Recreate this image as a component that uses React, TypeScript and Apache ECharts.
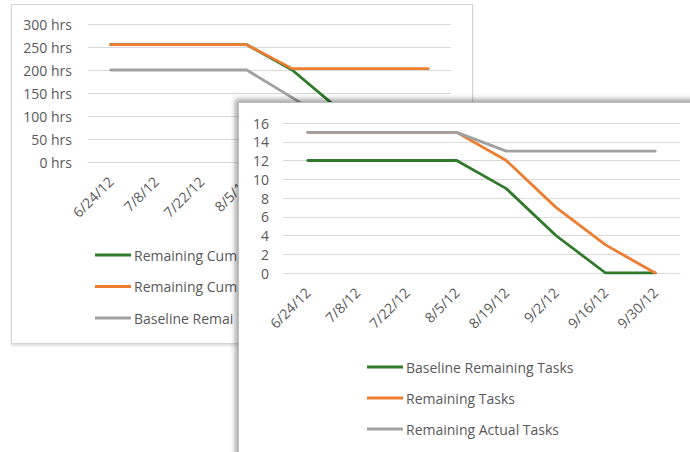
import React, { useEffect, useRef } from "react";
import * as echarts from "echarts";

const dates = ["6/24/12", "7/8/12", "7/22/12", "8/5/12", "8/19/12", "9/2/12", "9/16/12", "9/30/12"];

// back chart (hours)
const backNames = ["Remaining Cumulative Work", "Remaining Cumulative Actual Work", "Baseline Remaining Cumulative Work"];
const backGreen = [255, 255, 255, 255, 200, 117, 40, 0];
const backOrange = [255, 255, 255, 255, 203, 203, 203, 203];
const backGray = [200, 200, 200, 200, 140, 80, 30, 0];
const backTicks = [0, 50, 100, 150, 200, 250, 300];

// front chart (tasks)
const frontNames = ["Baseline Remaining Tasks", "Remaining Tasks", "Remaining Actual Tasks"];
const frontGreen = [12, 12, 12, 12, 9, 4, 0, 0];
const frontOrange = [15, 15, 15, 15, 12, 7, 3, 0];
const frontGray = [15, 15, 15, 15, 13, 13, 13, 13];
const frontTicks = [0, 2, 4, 6, 8, 10, 12, 14, 16];

const GREEN = "#2e7a2a";
const ORANGE = "#ed7d31";
const GRAY = "#a0a0a0";
const TXT = "#595959";
const GRID = "#d9d9d9";
const FONT = "'Open Sans', 'Noto Sans', sans-serif";

function lineSeries(name: string, data: number[], color: string) {
  return {
    name,
    type: "line",
    data,
    symbol: "none",
    showSymbol: false,
    lineStyle: { color, width: 2.8, cap: "round", join: "round" },
    itemStyle: { color },
  };
}

function makeOption(opts: {
  gridLeft: number;
  gridTop: number;
  gridW: number;
  gridH: number;
  ticks: number[];
  yFmt: string;
  yMargin: number;
  series: any[];
  legendLeft: number;
  legendTop: number;
  legendGap: number;
  legendTextWidth?: number;
  names: string[];
}) {
  const legendText: any = { color: TXT, fontSize: 14, fontFamily: FONT, lineHeight: 16, padding: [0, 0, 0, -2] };
  if (opts.legendTextWidth) {
    legendText.width = opts.legendTextWidth;
    legendText.overflow = "truncate";
    legendText.ellipsis = "";
  }
  return {
    animation: false,
    textStyle: { fontFamily: FONT },
    grid: { left: opts.gridLeft, top: opts.gridTop, width: opts.gridW, height: opts.gridH, containLabel: false },
    xAxis: {
      type: "category",
      data: dates,
      boundaryGap: true,
      axisLine: { show: true, lineStyle: { color: GRID, width: 1 } },
      axisTick: { show: false },
      axisLabel: { rotate: 45, color: TXT, fontSize: 14, fontFamily: FONT, margin: 17, interval: 0 },
      splitLine: { show: false },
    },
    yAxis: {
      type: "value",
      min: opts.ticks[0],
      max: opts.ticks[opts.ticks.length - 1],
      interval: opts.ticks[1] - opts.ticks[0],
      axisLine: { show: false },
      axisTick: { show: false },
      axisLabel: { color: TXT, fontSize: 14, fontFamily: FONT, formatter: opts.yFmt, margin: opts.yMargin },
      splitLine: { show: true, lineStyle: { color: GRID, width: 1 } },
    },
    legend: {
      orient: "vertical",
      left: opts.legendLeft,
      top: opts.legendTop,
      padding: 0,
      itemGap: opts.legendGap,
      itemWidth: 36,
      itemHeight: 3,
      icon: "rect",
      data: opts.names,
      textStyle: legendText,
    },
    series: opts.series,
  };
}

export default function App() {
  const backRef = useRef<HTMLDivElement>(null);
  const frontRef = useRef<HTMLDivElement>(null);

  useEffect(() => {
    const back = echarts.init(backRef.current!, undefined, { renderer: "svg" });
    back.setOption(
      makeOption({
        gridLeft: 76,
        gridTop: 19,
        gridW: 363,
        gridH: 138,
        ticks: backTicks,
        yFmt: "{value} hrs",
        yMargin: 16,
        names: backNames,
        series: [
          lineSeries(backNames[0], backGreen, GREEN),
          lineSeries(backNames[1], backOrange, ORANGE),
          lineSeries(backNames[2], backGray, GRAY),
        ],
        legendLeft: 83,
        legendTop: 242,
        legendGap: 15.5,
        legendTextWidth: 106,
      }) as any
    );

    const front = echarts.init(frontRef.current!, undefined, { renderer: "svg" });
    front.setOption(
      makeOption({
        gridLeft: 44,
        gridTop: 20,
        gridW: 397,
        gridH: 150,
        ticks: frontTicks,
        yFmt: "{value}",
        yMargin: 14,
        names: frontNames,
        series: [
          lineSeries(frontNames[0], frontGreen, GREEN),
          lineSeries(frontNames[1], frontOrange, ORANGE),
          lineSeries(frontNames[2], frontGray, GRAY),
        ],
        legendLeft: 128,
        legendTop: 256,
        legendGap: 15,
      }) as any
    );

    return () => {
      back.dispose();
      front.dispose();
    };
  }, []);

  return (
    <div style={{ position: "absolute", left: 0, top: 0, width: 690, height: 452, overflow: "hidden", background: "#fff" }}>
      <div
        style={{
          position: "absolute",
          left: 11,
          top: 4,
          width: 460,
          height: 338,
          border: "1px solid #d4d4d4",
          boxShadow: "0 2px 2px rgba(0,0,0,0.12)",
          background: "#fff",
        }}
      >
        <div ref={backRef} style={{ width: 460, height: 338 }} />
      </div>
      <div
        style={{
          position: "absolute",
          left: 238,
          top: 102,
          width: 460,
          height: 360,
          borderLeft: "1px solid #bdbdbd",
          borderTop: "1px solid #bdbdbd",
          boxShadow: "-3px -3px 5px rgba(0,0,0,0.35)",
          background: "#fff",
        }}
      >
        <div ref={frontRef} style={{ width: 460, height: 360 }} />
      </div>
    </div>
  );
}
